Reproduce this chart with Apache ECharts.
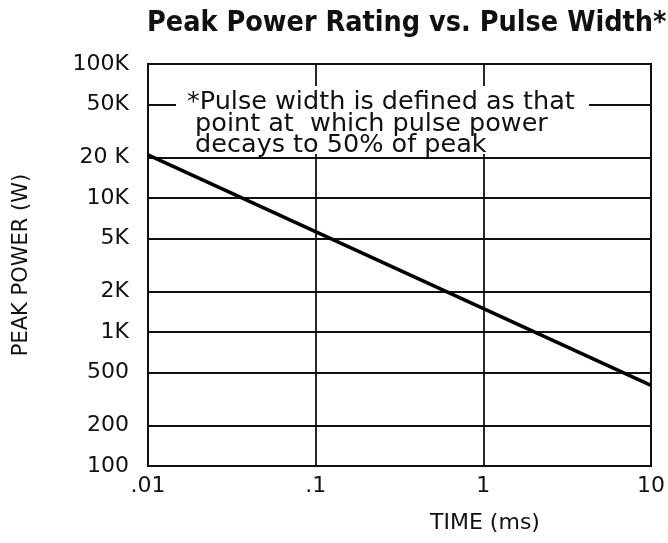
<!DOCTYPE html>
<html>
<head>
<meta charset="utf-8">
<script src="https://cdn.jsdelivr.net/npm/echarts@6/dist/echarts.min.js"></script>
<style>
  html, body { margin: 0; padding: 0; background: #fff; }
  #chart { width: 668px; height: 543px; }
</style>
</head>
<body>
<div id="chart"></div>
<script>
// pulse width (ms) and peak power rating (W)
const timeMs = [0.01, 10];
const peakPowerW = [21000, 400];

const xTicks = [0.01, 0.1, 1, 10];
const xTickLabels = ['.01', '.1', '1', '10'];
const yTicks = [100, 200, 500, 1000, 2000, 5000, 10000, 20000, 50000, 100000];
const yTickLabels = ['100', '200', '500', '1K', '2K', '5K', '10K', '20 K', '50K', '100K'];

const noteLines = [
  '*Pulse width is defined as that',
  ' point at  which pulse power',
  ' decays to 50% of peak'
];

const font = 'DejaVu Sans';
const ink = '#111';

function labelFor(ticks, labels, v) {
  for (let i = 0; i < ticks.length; i++) {
    if (Math.abs(Math.log10(v) - Math.log10(ticks[i])) < 1e-6) return labels[i];
  }
  return '';
}

const chart = echarts.init(document.getElementById('chart'));

chart.setOption({
  animation: false,
  backgroundColor: '#fff',
  grid: {
    left: 148, right: 16, top: 64, bottom: 77,
    show: true, borderColor: '#000', borderWidth: 2
  },
  xAxis: {
    type: 'log', logBase: 10, min: 0.01, max: 10,
    axisLine: { show: false }, axisTick: { show: false },
    splitLine: { show: false },
    axisLabel: {
      customValues: xTicks,
      formatter: v => labelFor(xTicks, xTickLabels, v),
      color: ink, fontFamily: font, fontSize: 22, margin: 9
    }
  },
  yAxis: {
    type: 'log', logBase: 10, min: 100, max: 100000,
    axisLine: { show: false }, axisTick: { show: false },
    splitLine: { show: false },
    axisLabel: {
      customValues: yTicks,
      formatter: v => labelFor(yTicks, yTickLabels, v),
      color: ink, fontFamily: font, fontSize: 22, margin: 19
    }
  },
  series: [{
    type: 'line',
    data: timeMs.map((t, i) => [t, peakPowerW[i]]),
    showSymbol: false,
    lineStyle: { color: '#000', width: 3.5 },
    z: 5,
    markLine: {
      silent: true,
      symbol: 'none',
      label: { show: false },
      lineStyle: { color: ink, width: 1.8, type: 'solid' },
      data: yTicks.map(v => ({ yAxis: v })).concat(xTicks.map(v => ({ xAxis: v })))
    }
  }],
  graphic: [
    {
      type: 'text', left: 147, top: 9, z: 100,
      style: {
        text: 'Peak Power Rating vs. Pulse Width*',
        fontFamily: 'DejaVu Sans Condensed', fontWeight: 'bold', fontSize: 28.5, fill: ink
      }
    },
    {
      type: 'rect', z: 100,
      shape: { x: 176, y: 86, width: 413, height: 68 },
      style: { fill: '#fff' }
    },
    {
      type: 'text', x: 187, y: 92, z: 101,
      style: {
        text: noteLines.join('\n'),
        fontFamily: font, fontSize: 25.5, lineHeight: 21.5, fill: ink
      }
    },
    {
      type: 'text', x: 22, y: 265, rotation: Math.PI / 2, z: 100,
      style: {
        text: 'PEAK POWER (W)', fontFamily: font, fontSize: 21, fill: ink,
        align: 'center', verticalAlign: 'middle'
      }
    },
    {
      type: 'text', x: 485, y: 523, z: 100,
      style: {
        text: 'TIME (ms)', fontFamily: font, fontSize: 22, fill: ink,
        align: 'center', verticalAlign: 'middle'
      }
    }
  ]
});
</script>
</body>
</html>
